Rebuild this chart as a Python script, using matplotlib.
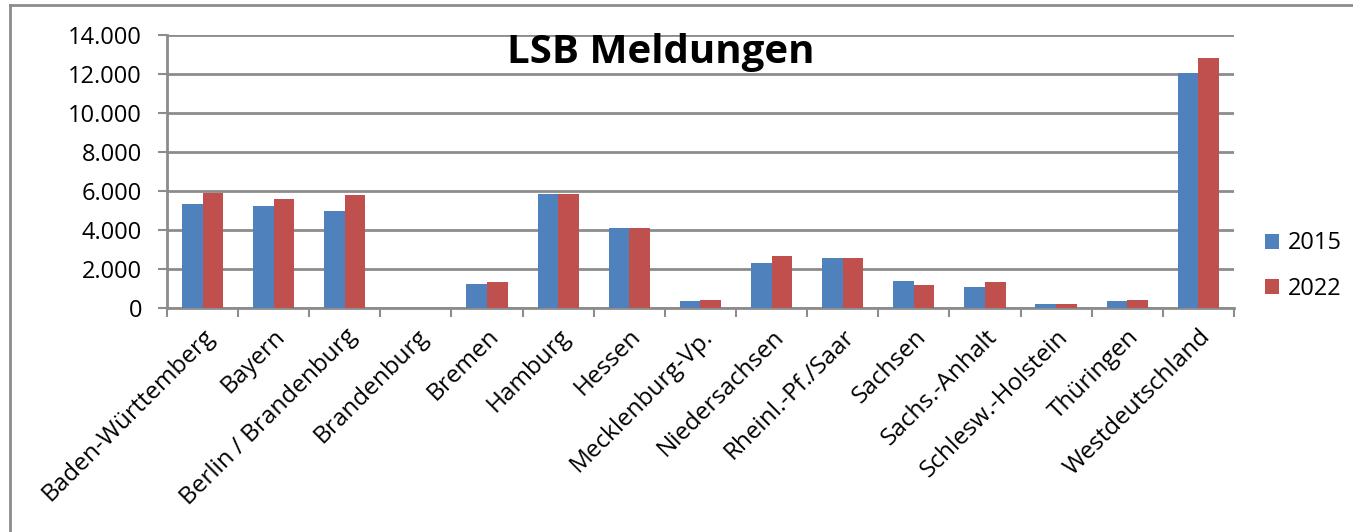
import matplotlib
matplotlib.use('Agg')
import matplotlib.pyplot as plt
from matplotlib.lines import Line2D
from matplotlib.ticker import FuncFormatter
import numpy as np

plt.rcParams['font.family'] = ['Open Sans', 'DejaVu Sans']

# data
regions = ['Baden-Württemberg', 'Bayern', 'Berlin / Brandenburg', 'Brandenburg',
           'Bremen', 'Hamburg', 'Hessen', 'Mecklenburg-Vp.', 'Niedersachsen',
           'Rheinl.-Pf./Saar', 'Sachsen', 'Sachs.-Anhalt', 'Schlesw.-Holstein',
           'Thüringen', 'Westdeutschland']
v2015 = [5320, 5220, 4980, 0, 1250, 5820, 4110, 360, 2330, 2570, 1370, 1100, 205, 375, 12070]
v2022 = [5900, 5600, 5800, 0, 1320, 5870, 4110, 430, 2650, 2570, 1165, 1335, 190, 410, 12800]
series = ['2015', '2022']
yticks = [0, 2000, 4000, 6000, 8000, 10000, 12000, 14000]

blue = '#4F81BD'
red = '#C0504D'
grid = '#8C8C8C'

fig = plt.figure(figsize=(13.53, 5.32), dpi=100)
ax = fig.add_axes([0.1234, 0.4211, 0.7886, 0.5131])

x = np.arange(len(regions))
w = 0.29
ax.bar(x - w / 2, v2015, w, color=blue, label=series[0], zorder=3)
ax.bar(x + w / 2, v2022, w, color=red, label=series[1], zorder=3)

ax.set_xlim(-0.5, len(regions) - 0.5)
ax.set_ylim(0, 14000)
ax.set_yticks(yticks)
ax.yaxis.set_major_formatter(FuncFormatter(lambda v, p: f'{int(v):,}'.replace(',', '.')))
ax.grid(axis='y', color=grid, linewidth=2, zorder=0)

for s in ['top', 'right']:
    ax.spines[s].set_visible(False)
for s in ['left', 'bottom']:
    ax.spines[s].set_color(grid)
    ax.spines[s].set_linewidth(2)

ax.tick_params(axis='y', direction='out', length=6.5, width=1.5, color=grid,
               pad=11.5, labelsize=17)
ax.set_xticks(x)
ax.set_xticklabels(regions, rotation=45, ha='right', va='top',
                   rotation_mode='anchor', fontsize=17.5)
ax.tick_params(axis='x', which='major', length=0, pad=12)
ax.set_xticks(np.arange(-0.5, len(regions)), minor=True)
ax.tick_params(axis='x', which='minor', direction='out', length=6.5, width=1.5, color=grid)

fig.text(0.488, 1 - 63 / 532, 'LSB Meldungen', ha='center', va='baseline',
         fontsize=29, fontweight='bold')

fig.legend(loc='center left', bbox_to_anchor=(0.928, 0.50), frameon=False,
           fontsize=17, handlelength=0.6, handleheight=0.6, handletextpad=0.35,
           labelspacing=0.9, borderaxespad=0)

# outer frame (left and top edges)
fig.add_artist(Line2D([10 / 1353, 10 / 1353], [0, 1 - 5 / 532], color=grid, lw=2,
                      transform=fig.transFigure))
fig.add_artist(Line2D([10 / 1353, 1], [1 - 5 / 532, 1 - 5 / 532], color=grid, lw=2,
                      transform=fig.transFigure))

fig.savefig('out.png', dpi=100)
